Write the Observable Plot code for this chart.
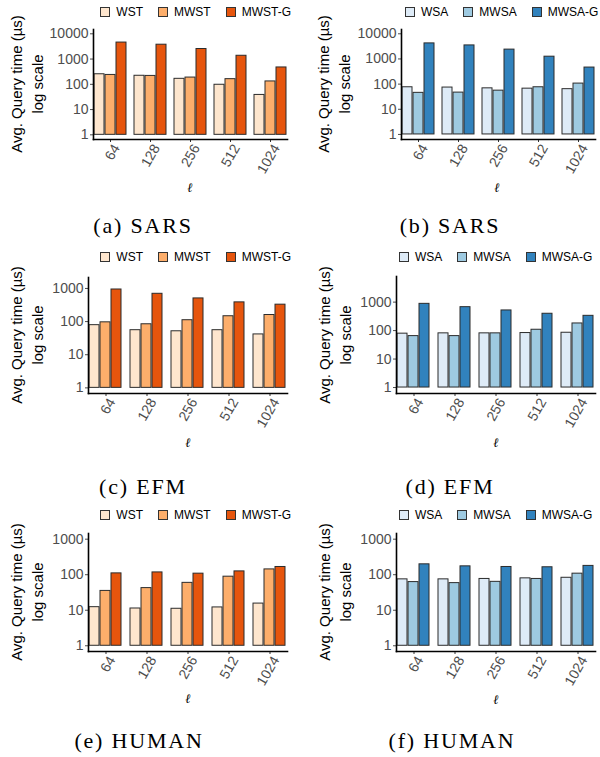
<!DOCTYPE html>
<html><head><meta charset="utf-8">
<script src="https://cdn.jsdelivr.net/npm/d3@7"></script>
<script src="https://cdn.jsdelivr.net/npm/@observablehq/plot@0.6"></script>
<style>
body{margin:0;background:#fff;}
#root{position:relative;width:600px;height:757px;overflow:hidden;font-family:"Liberation Sans",Arial,sans-serif;}
.panel{position:absolute;}
.ylab{position:absolute;transform:translate(-50%,-50%) rotate(-90deg);text-align:center;font-size:15px;line-height:21px;color:#000;white-space:nowrap;}
.ell{position:absolute;transform:translate(-50%,-50%);font-family:"DejaVu Serif",serif;font-style:italic;font-size:13px;color:#000;}
.cap{position:absolute;transform:translateX(-50%);font-family:"Liberation Serif","Times New Roman",serif;font-size:22px;line-height:22px;letter-spacing:1.8px;white-space:nowrap;color:#000;}
.legend{position:absolute;display:flex;align-items:center;font-size:12px;white-space:nowrap;color:#000;transform:translateY(-50%);}
.legend .sw{width:8px;height:8px;border:1px solid #333;margin-right:6px;}
.legend .it{display:flex;align-items:center;margin-left:15px;}
.legend .it:first-child{margin-left:0;}
</style></head><body><div id="root"></div>
<script>
// ---------- data ----------
const lengths = ["64", "128", "256", "512", "1024"];
const treeMethods = ["WST", "MWST", "MWST-G"];
const arrayMethods = ["WSA", "MWSA", "MWSA-G"];
const treeColors = ["#fee6ce", "#fdae6b", "#e6550d"];
const arrayColors = ["#deebf7", "#9ecae1", "#3182bd"];

// SARS
const sarsWST   = [250, 218, 165, 96, 38];
const sarsMWST  = [235, 215, 185, 160, 130];
const sarsMWSTG = [4500, 3700, 2500, 1350, 465];
const sarsWSA   = [75, 73, 68, 66, 63];
const sarsMWSA  = [45, 46, 55, 75, 105];
const sarsMWSAG = [4150, 3450, 2350, 1230, 455];
// EFM
const efmWST   = [78, 55, 51, 55, 41];
const efmMWST  = [95, 83, 110, 145, 158];
const efmMWSTG = [930, 690, 500, 380, 324];
const efmWSA   = [78, 80, 80, 82, 84];
const efmMWSA  = [64, 64, 80, 107, 178];
const efmMWSAG = [870, 665, 510, 390, 330];
// HUMAN
const humanWST   = [12.2, 11.2, 11, 12, 15.4];
const humanMWST  = [35, 42, 59, 88, 141];
const humanMWSTG = [109, 116, 107, 124, 165];
const humanWSA   = [74, 74, 76, 79, 82];
const humanMWSA  = [62, 58, 63, 76, 107];
const humanMWSAG = [196, 172, 165, 162, 177];

const ticksBig = [1, 10, 100, 1000, 10000];
const ticksSmall = [1, 10, 100, 1000];
const yTitle = "Avg. Query time (µs)";
const ySub = "log scale";
const xTitle = "ℓ";

// ---------- layout ----------
const panels = [
  {cap: "(a) SARS", methods: treeMethods, colors: treeColors, series: [sarsWST, sarsMWST, sarsMWSTG],
   left: 0, top: 0, ml: 92, mr: 11, mt: 29, bottom: 139, height: 180, yDomain: [0.653, 14800], ticks: ticksBig,
   ylab: [27, 84], ell: [190, 188], capPos: [143, 233], leg: {right: 291, y: 12}},
  {cap: "(b) SARS", methods: arrayMethods, colors: arrayColors, series: [sarsWSA, sarsMWSA, sarsMWSAG],
   left: 300, top: 0, ml: 99, mr: 3, mt: 29, bottom: 139, height: 180, yDomain: [0.63, 14800], ticks: ticksBig,
   ylab: [334, 84], ell: [497, 188], capPos: [450, 233], leg: {left: 405, y: 12}},
  {cap: "(c) EFM", methods: treeMethods, colors: treeColors, series: [efmWST, efmMWST, efmMWSTG],
   left: 0, top: 250, ml: 87, mr: 11, mt: 27, bottom: 143, height: 185, yDomain: [0.676, 2140], ticks: ticksSmall,
   ylab: [27, 335], ell: [188, 443], capPos: [143, 494], leg: {right: 291, y: 257}},
  {cap: "(d) EFM", methods: arrayMethods, colors: arrayColors, series: [efmWSA, efmMWSA, efmMWSAG],
   left: 300, top: 250, ml: 95, mr: 3, mt: 26, bottom: 143, height: 185, yDomain: [0.617, 7940], ticks: ticksSmall,
   ylab: [335, 335], ell: [496, 443], capPos: [450, 494], leg: {left: 399, y: 257}},
  {cap: "(e) HUMAN", methods: treeMethods, colors: treeColors, series: [humanWST, humanMWST, humanMWSTG],
   left: 0, top: 500, ml: 87, mr: 11, mt: 33, bottom: 151, height: 192, yDomain: [0.69, 1445], ticks: ticksSmall,
   ylab: [27, 592], ell: [188, 699], capPos: [139, 748], leg: {right: 291, y: 515}},
  {cap: "(f) HUMAN", methods: arrayMethods, colors: arrayColors, series: [humanWSA, humanMWSA, humanMWSAG],
   left: 300, top: 500, ml: 95, mr: 3, mt: 33, bottom: 151, height: 192, yDomain: [0.69, 1445], ticks: ticksSmall,
   ylab: [335, 592], ell: [496, 700], capPos: [452, 748], leg: {left: 399, y: 515}}
];

const root = document.getElementById("root");

function el(tag, cls, text) {
  const e = document.createElement(tag);
  if (cls) e.className = cls;
  if (text != null) e.textContent = text;
  return e;
}

for (const p of panels) {
  const data = p.methods.flatMap((m, j) => lengths.map((l, i) => ({l, m, v: p.series[j][i]})));
  const chart = Plot.plot({
    width: 300,
    height: p.height,
    marginLeft: p.ml,
    marginRight: p.mr,
    marginTop: p.mt,
    marginBottom: p.height - p.bottom,
    style: {fontFamily: '"Liberation Sans", Arial, sans-serif', fontSize: "14px", color: "#4d4d4d", background: "transparent", overflow: "visible"},
    fx: {domain: lengths, paddingInner: 0.14, paddingOuter: 0, label: null},
    x: {domain: p.methods, paddingInner: 0.08, paddingOuter: 0, axis: null},
    y: {type: "log", domain: p.yDomain, ticks: p.ticks, tickFormat: d3.format("d"), label: null, tickSize: 3, tickPadding: 2},
    color: {domain: p.methods, range: p.colors},
    marks: [
      Plot.barY(data, {fx: "l", x: "m", y1: 1, y2: "v", fill: "m", stroke: "#2b2b2b", strokeWidth: 1}),
      Plot.axisFx({anchor: "bottom", tickSize: 3, tickFormat: () => "", label: null, stroke: "#333"}),
      Plot.axisFx({anchor: "bottom", tickSize: 0, tickRotate: -60, tickPadding: 3, label: null, dx: 6, dy: 3, fill: "#4d4d4d"}),
      Plot.frame({anchor: "left", facet: "super", stroke: "#000", strokeWidth: 1.6}),
      Plot.frame({anchor: "bottom", facet: "super", stroke: "#000", strokeWidth: 1.6})
    ]
  });
  const wrap = el("div", "panel");
  wrap.style.left = p.left + "px";
  wrap.style.top = p.top + "px";
  wrap.appendChild(chart);
  root.appendChild(wrap);

  // y title
  const yl = el("div", "ylab");
  yl.appendChild(el("div", null, yTitle));
  yl.appendChild(el("div", null, ySub));
  yl.style.left = p.ylab[0] + "px";
  yl.style.top = p.ylab[1] + "px";
  root.appendChild(yl);

  // x title
  const xl = el("div", "ell", xTitle);
  xl.style.left = p.ell[0] + "px";
  xl.style.top = p.ell[1] + "px";
  root.appendChild(xl);

  // caption
  const c = el("div", "cap", p.cap);
  c.style.left = p.capPos[0] + "px";
  c.style.top = (p.capPos[1] - 18) + "px";
  root.appendChild(c);

  // legend
  const lg = el("div", "legend");
  p.methods.forEach((m, j) => {
    const it = el("div", "it");
    const sw = el("div", "sw");
    sw.style.background = p.colors[j];
    it.appendChild(sw);
    it.appendChild(el("span", null, m));
    lg.appendChild(it);
  });
  if (p.leg.right != null) lg.style.right = (600 - p.leg.right) + "px";
  else lg.style.left = p.leg.left + "px";
  lg.style.top = p.leg.y + "px";
  root.appendChild(lg);
}
</script></body></html>
